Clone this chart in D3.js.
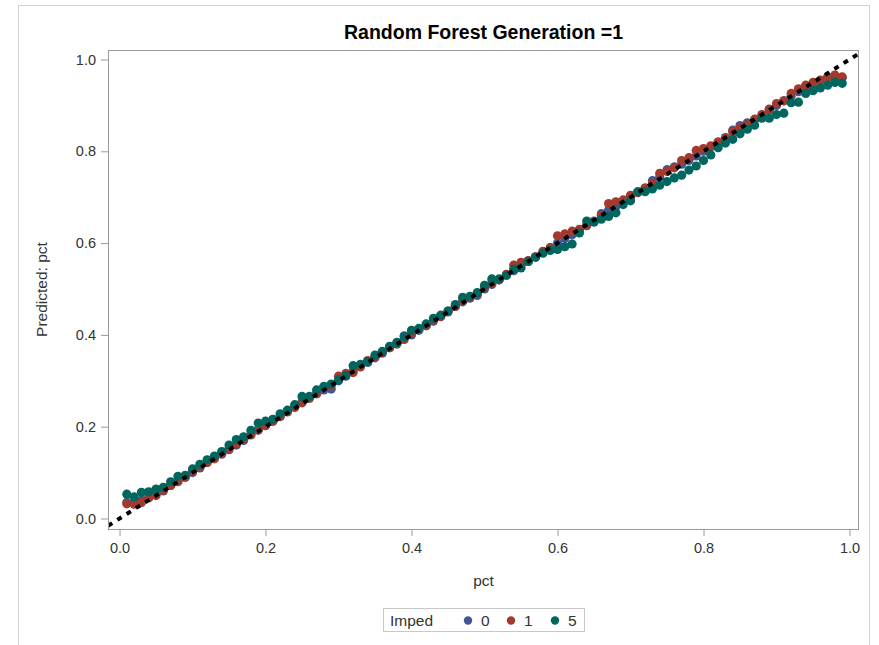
<!DOCTYPE html>
<html>
<head>
<meta charset="utf-8">
<script src="https://cdn.jsdelivr.net/npm/d3@7"></script>
<style>
  html, body { margin: 0; padding: 0; background: #fff; }
  svg { display: block; font-family: "Liberation Sans", Arial, sans-serif; }
</style>
</head>
<body>
<svg id="chart" width="879" height="645"></svg>
<script>
const title = "Random Forest Generation =1";
const xLabel = "pct";
const yLabel = "Predicted: pct";
const legendTitle = "Imped";
const groups = ["0", "1", "5"];
const colors = ["#445694", "#A23A2E", "#01665E"];
const xTicks = [0.0, 0.2, 0.4, 0.6, 0.8, 1.0];
const yTicks = [0.0, 0.2, 0.4, 0.6, 0.8, 1.0];

const pct = [
  0.01,0.02,0.03,0.04,0.05,0.06,0.07,0.08,0.09,0.10,
  0.11,0.12,0.13,0.14,0.15,0.16,0.17,0.18,0.19,0.20,
  0.21,0.22,0.23,0.24,0.25,0.26,0.27,0.28,0.29,0.30,
  0.31,0.32,0.33,0.34,0.35,0.36,0.37,0.38,0.39,0.40,
  0.41,0.42,0.43,0.44,0.45,0.46,0.47,0.48,0.49,0.50,
  0.51,0.52,0.53,0.54,0.55,0.56,0.57,0.58,0.59,0.60,
  0.61,0.62,0.63,0.64,0.65,0.66,0.67,0.68,0.69,0.70,
  0.71,0.72,0.73,0.74,0.75,0.76,0.77,0.78,0.79,0.80,
  0.81,0.82,0.83,0.84,0.85,0.86,0.87,0.88,0.89,0.90,
  0.91,0.92,0.93,0.94,0.95,0.96,0.97,0.98,0.99
];

const imped0 = [
  .035,.034,.040,.046,.052,.060,.072,.080,.090,.100,
  .110,.122,.132,.140,.150,.160,.170,.182,.192,.202,
  .212,.222,.234,.244,.254,.262,.272,.280,.282,.300,
  .310,.322,.332,.340,.350,.360,.372,.384,.398,.400,
  .410,.420,.430,.440,.450,.462,.472,.480,.486,.500,
  .510,.520,.530,.540,.552,.560,.570,.580,.590,.600,
  .610,.618,.628,.638,.646,.664,.672,.680,.690,.700,
  .710,.720,.736,.744,.760,.766,.772,.780,.790,.800,
  .810,.820,.830,.846,.856,.862,.868,.878,.890,.900,
  .910,.920,.930,.940,.948,.954,.960,.962,.960
];

const imped1 = [
  .032,.031,.035,.045,.050,.062,.072,.082,.090,.102,
  .112,.122,.130,.142,.152,.162,.172,.183,.194,.203,
  .212,.222,.232,.242,.252,.262,.272,.286,.290,.310,
  .316,.318,.330,.344,.353,.362,.372,.380,.390,.404,
  .412,.420,.432,.440,.452,.462,.475,.482,.490,.504,
  .512,.520,.532,.552,.558,.562,.570,.582,.590,.616,
  .620,.626,.630,.640,.648,.660,.686,.690,.694,.704,
  .710,.720,.730,.752,.756,.764,.780,.786,.802,.806,
  .812,.820,.828,.842,.852,.858,.870,.880,.892,.904,
  .910,.926,.936,.944,.950,.955,.962,.966,.962
];

const imped5 = [
  .053,.047,.057,.058,.064,.068,.080,.092,.094,.108,
  .118,.128,.136,.146,.160,.172,.178,.192,.208,.212,
  .216,.228,.236,.248,.266,.266,.280,.288,.293,.302,
  .312,.333,.336,.342,.356,.364,.375,.383,.396,.410,
  .414,.424,.436,.443,.452,.466,.482,.484,.492,.508,
  .522,.522,.530,.543,.546,.560,.569,.578,.584,.586,
  .592,.598,.622,.648,.646,.652,.658,.666,.684,.692,
  .712,.712,.718,.726,.734,.742,.748,.759,.768,.780,
  .792,.808,.818,.826,.838,.848,.857,.872,.872,.880,
  .883,.906,.907,.926,.932,.938,.944,.950,.948
];

const seriesValues = [imped0, imped1, imped5];

const svg = d3.select("#chart");
const plot = { left: 108, right: 859, top: 50, bottom: 529 };

// outer frame
svg.append("rect")
  .attr("x", 18.5).attr("y", 5.5)
  .attr("width", 851).attr("height", 700)
  .attr("fill", "none").attr("stroke", "#d4d4d4").attr("stroke-width", 1);

const x = d3.scaleLinear().domain([-0.0158, 1.013]).range([plot.left, plot.right]);
const y = d3.scaleLinear().domain([-0.0229, 1.0207]).range([plot.bottom, plot.top]);

// title
svg.append("text")
  .attr("x", (plot.left + plot.right) / 2).attr("y", 39)
  .attr("text-anchor", "middle")
  .attr("font-size", 19.5).attr("font-weight", "bold").attr("fill", "#000")
  .text(title);

const axisColor = "#9a9a9a";
const textColor = "#333";

const xAxis = svg.append("g")
  .attr("transform", `translate(0,${plot.bottom})`)
  .call(d3.axisBottom(x).tickValues(xTicks).tickFormat(d3.format(".1f")).tickSize(7).tickSizeOuter(0).tickPadding(7));
const yAxis = svg.append("g")
  .attr("transform", `translate(${plot.left},0)`)
  .call(d3.axisLeft(y).tickValues(yTicks).tickFormat(d3.format(".1f")).tickSize(7).tickSizeOuter(0).tickPadding(5));

[xAxis, yAxis].forEach(g => {
  g.select(".domain").remove();
  g.selectAll(".tick line").attr("stroke", axisColor);
  g.selectAll(".tick text").attr("fill", textColor).attr("font-size", 14.5)
    .attr("font-family", "'Liberation Sans', Arial, sans-serif");
});

// plot frame
svg.append("rect")
  .attr("x", plot.left + 0.5).attr("y", plot.top + 0.5)
  .attr("width", plot.right - plot.left - 1).attr("height", plot.bottom - plot.top)
  .attr("fill", "none").attr("stroke", axisColor).attr("stroke-width", 1);

// axis labels
svg.append("text")
  .attr("x", (plot.left + plot.right) / 2).attr("y", 586)
  .attr("text-anchor", "middle").attr("font-size", 15.5).attr("fill", textColor)
  .text(xLabel);
svg.append("text")
  .attr("transform", `translate(47,${(plot.top + plot.bottom) / 2}) rotate(-90)`)
  .attr("text-anchor", "middle").attr("font-size", 15.5).attr("fill", textColor)
  .text(yLabel);

// clip
svg.append("clipPath").attr("id", "clip").append("rect")
  .attr("x", plot.left + 1).attr("y", plot.top + 1)
  .attr("width", plot.right - plot.left - 2).attr("height", plot.bottom - plot.top - 1);

const marks = svg.append("g").attr("clip-path", "url(#clip)");

seriesValues.forEach((vals, i) => {
  marks.append("g").selectAll("circle")
    .data(vals.map((v, j) => ({ x: pct[j], y: v })))
    .join("circle")
    .attr("cx", d => x(d.x)).attr("cy", d => y(d.y))
    .attr("r", 4.6)
    .attr("fill", colors[i]);
});

// reference diagonal line y = x
const d0 = x.domain()[0], d1 = x.domain()[1];
marks.append("line")
  .attr("x1", x(d0)).attr("y1", y(d0))
  .attr("x2", x(d1)).attr("y2", y(d1))
  .attr("stroke", "#000").attr("stroke-width", 4)
  .attr("stroke-dasharray", "5,6");

// legend
const lg = svg.append("g");
lg.append("rect")
  .attr("x", 383.5).attr("y", 608.5).attr("width", 201).attr("height", 23)
  .attr("fill", "#fff").attr("stroke", "#c8c8c8");
lg.append("text").attr("x", 390).attr("y", 625.5)
  .attr("font-size", 15.5).attr("fill", textColor).text(legendTitle);
const legendX = [468, 511, 555];
groups.forEach((g, i) => {
  lg.append("circle").attr("cx", legendX[i]).attr("cy", 620.5).attr("r", 4.2).attr("fill", colors[i]);
  lg.append("text").attr("x", legendX[i] + 13).attr("y", 625.5)
    .attr("font-size", 15.5).attr("fill", textColor).text(g);
});
</script>
</body>
</html>
